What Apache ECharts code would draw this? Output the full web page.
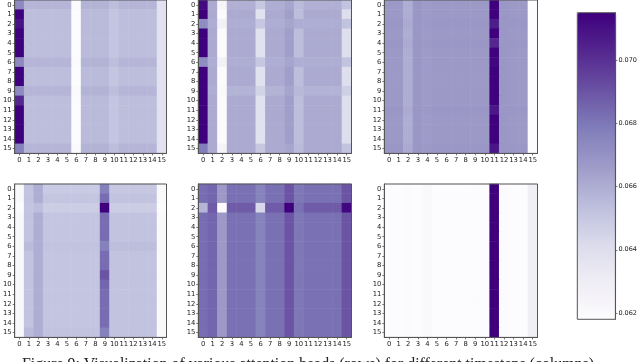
<!DOCTYPE html>
<html><head><meta charset="utf-8">
<style>html,body{margin:0;padding:0;background:#fff}#c{width:640px;height:362px}</style>
<script src="https://cdn.jsdelivr.net/npm/echarts@6/dist/echarts.min.js"></script></head>
<body><div id="c"></div>
<script>
const tickLabels=['0','1','2','3','4','5','6','7','8','9','10','11','12','13','14','15'];
const colorbarTicks=[0.062,0.064,0.066,0.068,0.070];
const captionText='Figure 9: Visualization of various attention heads (rows) for different timesteps (columns)';
const purples=['#fcfbfd','#efedf5','#dadaeb','#bcbddc','#9e9ac8','#807dba','#6a51a3','#54278f','#3f007d'];

// panel 1
const a1=[.0715,.0654,.0654,.0654,.0654,.0654,.0618,.0655,.0655,.0655,.0651,.0654,.0654,.0654,.0654,.0638];
const a2=[.0673,.0657,.0657,.0657,.0657,.0657,.0620,.0658,.0658,.0658,.0654,.0657,.0657,.0657,.0657,.0638];
const a3=[.0709,.0654,.0654,.0654,.0654,.0654,.0618,.0655,.0655,.0655,.0651,.0654,.0654,.0654,.0654,.0638];
const a4=[.0703,.0654,.0654,.0654,.0654,.0654,.0619,.0655,.0655,.0655,.0651,.0654,.0654,.0654,.0654,.0638];
const a5=[.0676,.0657,.0657,.0657,.0657,.0657,.0620,.0658,.0658,.0658,.0654,.0657,.0657,.0657,.0657,.0638];
const panel1=[a2,a1,a3,a1,a1,a1,a2,a1,a1,a2,a4,a1,a1,a1,a1,a5];

// panel 2
const b1=[.0715,.0661,.0619,.0661,.0661,.0661,.0638,.0661,.0661,.0665,.0654,.0661,.0661,.0661,.0661,.0640];
const b2=[.0712,.0661,.0624,.0659,.0659,.0659,.0650,.0660,.0660,.0663,.0655,.0659,.0659,.0659,.0659,.0652];
const b3=[.0672,.0660,.0627,.0660,.0660,.0660,.0650,.0660,.0660,.0663,.0660,.0660,.0660,.0660,.0660,.0652];
const b4=[.0715,.0660,.0621,.0658,.0658,.0658,.0645,.0658,.0658,.0663,.0656,.0658,.0658,.0658,.0658,.0647];
const b5=[.0678,.0661,.0624,.0661,.0661,.0661,.0650,.0661,.0661,.0663,.0655,.0661,.0661,.0661,.0661,.0652];
const panel2=[b2,b1,b3,b1,b1,b1,b3,b1,b1,b4,b1,b1,b1,b1,b1,b5];

// panel 3
const c1=[.0667,.0667,.0660,.0668,.0666,.0667,.0667,.0667,.0667,.0667,.0667,.0715,.0668,.0667,.0667,.0618];
const c2=[.0668,.0668,.0661,.0668,.0667,.0668,.0668,.0668,.0668,.0668,.0668,.0706,.0668,.0668,.0668,.0618];
const c3=[.0668,.0668,.0661,.0668,.0667,.0668,.0668,.0668,.0668,.0668,.0668,.0703,.0668,.0668,.0668,.0618];
const c4=[.0667,.0667,.0660,.0668,.0666,.0667,.0667,.0667,.0667,.0667,.0667,.0713,.0668,.0667,.0667,.0618];
const c5=[.0668,.0668,.0661,.0668,.0667,.0668,.0668,.0668,.0668,.0668,.0668,.0708,.0668,.0668,.0668,.0618];
const panel3=[c1,c1,c2,c1,c3,c1,c4,c1,c1,c1,c1,c5,c1,c1,c1,c5];

// panel 4
const d1=[.0621,.0652,.0660,.0651,.0651,.0651,.0651,.0651,.0651,.0683,.0652,.0652,.0652,.0652,.0652,.0621];
const d2=[.0621,.0652,.0660,.0649,.0649,.0649,.0649,.0649,.0649,.0677,.0650,.0650,.0650,.0650,.0650,.0621];
const d3=[.0618,.0651,.0654,.0648,.0648,.0648,.0648,.0648,.0648,.0715,.0648,.0648,.0648,.0648,.0648,.0619];
const d4=[.0621,.0655,.0660,.0652,.0652,.0652,.0652,.0652,.0652,.0677,.0654,.0654,.0654,.0654,.0654,.0621];
const d5=[.0621,.0652,.0660,.0651,.0651,.0651,.0651,.0651,.0651,.0690,.0652,.0652,.0652,.0652,.0652,.0621];
const d6=[.0621,.0652,.0660,.0651,.0651,.0651,.0651,.0651,.0651,.0685,.0652,.0652,.0652,.0652,.0652,.0621];
const d7=[.0621,.0655,.0660,.0652,.0652,.0652,.0652,.0652,.0652,.0677,.0652,.0652,.0652,.0652,.0652,.0621];
const panel4=[d2,d1,d3,d1,d1,d1,d4,d1,d1,d5,d6,d1,d1,d1,d1,d7];

// panel 5
const e1=[.0683,.0685,.0667,.0682,.0682,.0682,.0676,.0682,.0682,.0690,.0680,.0682,.0682,.0682,.0682,.0690];
const e2=[.0657,.0688,.0618,.0688,.0688,.0688,.0643,.0688,.0688,.0715,.0682,.0688,.0688,.0688,.0688,.0713];
const panel5=[e1,e1,e2,e1,e1,e1,e1,e1,e1,e1,e1,e1,e1,e1,e1,e1];

// panel 6
const f1=[.0618,.0618,.0619,.0618,.0621,.0618,.0618,.0618,.0618,.0618,.0618,.0715,.0619,.0618,.0618,.0628];
const panel6=[f1,f1,f1,f1,f1,f1,f1,f1,f1,f1,f1,f1,f1,f1,f1,f1];

const panels=[panel1,panel2,panel3,panel4,panel5,panel6];
const axisColor='#555', textColor='#222';
const gx=[13.3,198.3,384.3], gy=[0,184], gw=153.2, gh=153.4;
const grid=[],xAxis=[],yAxis=[],series=[];
panels.forEach((m,i)=>{
  const col=i%3,row=Math.floor(i/3);
  grid.push({left:gx[col],top:gy[row],width:gw,height:gh,show:true,z:3,borderColor:axisColor,borderWidth:1,backgroundColor:'transparent'});
  const ax={type:'category',gridIndex:i,data:tickLabels,z:3,splitArea:{show:false},splitLine:{show:false},
    axisLine:{show:true,lineStyle:{color:axisColor,width:1}},
    axisTick:{show:true,alignWithLabel:true,length:2,lineStyle:{color:axisColor,width:.8}},
    axisLabel:{show:true,interval:0,hideOverlap:false,fontFamily:'DejaVu Sans',fontSize:6.8,color:textColor,margin:3}};
  xAxis.push({...ax,position:'bottom'});
  yAxis.push({...ax,position:'left',inverse:true});
  const data=[];
  m.forEach((r,y)=>r.forEach((v,x)=>data.push([x,y,v])));
  series.push({type:'heatmap',xAxisIndex:i,yAxisIndex:i,data,z:2,emphasis:{disabled:true},progressive:0});
});
// colour bar frame and ticks
grid.push({left:577.3,top:12.7,width:39,height:306.6,show:true,z:6,borderColor:axisColor,borderWidth:1,backgroundColor:'transparent'});
xAxis.push({type:'value',gridIndex:6,min:0,max:1,show:false});
yAxis.push({type:'value',gridIndex:6,position:'right',min:0.0618,max:0.0715,z:6,splitLine:{show:false},
  axisLine:{show:true,onZero:false,lineStyle:{color:axisColor,width:1}},
  axisTick:{show:true,length:2,customValues:colorbarTicks,lineStyle:{color:axisColor,width:.8}},
  axisLabel:{show:true,customValues:colorbarTicks,showMinLabel:true,showMaxLabel:true,formatter:v=>v.toFixed(3),fontFamily:'DejaVu Sans',fontSize:6.5,color:textColor,margin:3}});

const chart=echarts.init(document.getElementById('c'),null,{renderer:'canvas'});
chart.setOption({
  animation:false,backgroundColor:'#fff',
  title:{text:captionText,left:22,top:357,padding:0,textStyle:{fontFamily:'Liberation Serif',fontWeight:'normal',fontSize:15.9,color:'#222'}},
  grid,xAxis,yAxis,series,
  visualMap:{type:'continuous',min:0.0618,max:0.0715,seriesIndex:[0,1,2,3,4,5],show:true,calculable:false,showLabel:false,text:null,
    left:577.3,top:12.7,itemWidth:39,itemHeight:306.6,padding:0,z:4,inRange:{color:purples},textStyle:{fontSize:0}}
});
</script></body></html>
